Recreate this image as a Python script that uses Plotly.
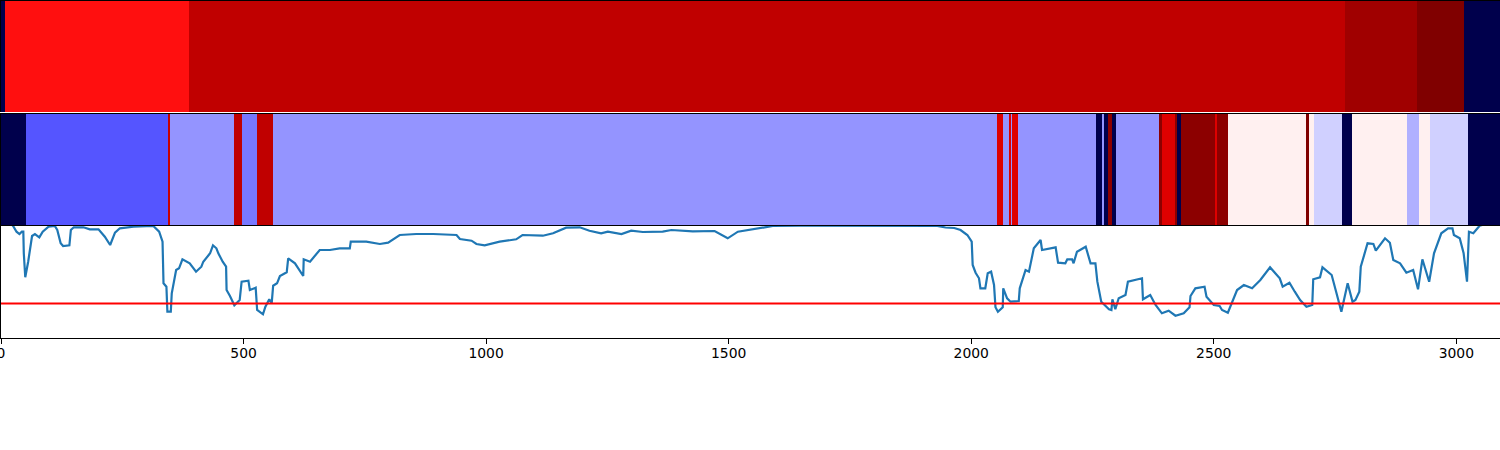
import plotly.graph_objects as go

# Top band: segment edges and values on the seismic scale
top_edges = [0, 8, 387, 2771, 2919, 3016, 3090]
top_values = [0.0, 0.735, 0.875, 0.9365, 1.0, 0.0]

# Middle band
mid_edges = [0, 52, 344, 348, 480, 497, 527, 560, 2054, 2066, 2078, 2081, 2085, 2097, 2258,
             2270, 2274, 2282, 2291, 2299, 2388, 2394, 2421, 2425, 2433, 2503, 2507, 2530,
             2690, 2697, 2707, 2765, 2785, 2898, 2923, 2946, 3024, 3090]
mid_values = [0.0, 0.333, 0.86, 0.395, 0.875, 0.3675, 0.875, 0.395, 0.815, 0.395, 0.815, 0.395,
              0.815, 0.395, 0.0, 0.395, 0.0, 0.977, 0.0, 0.395, 0.977, 0.815, 0.977, 0.0, 0.977,
              0.815, 0.977, 0.515, 1.0, 0.515, 0.454, 0.0, 0.515, 0.4225, 0.515, 0.454, 0.0]

# Line series
line_x = [0, 25, 32, 38, 43, 46, 47, 50, 56, 61, 64, 70, 79, 86, 98, 111, 116, 123, 128, 141, 144,
          150, 170, 183, 201, 214, 225, 235, 245, 273, 314, 326, 333, 335, 341, 343, 350, 352, 361,
          367, 374, 389, 402, 413, 417, 431, 437, 444, 448, 457, 464, 465, 472, 481, 492, 496, 510,
          513, 525, 528, 540, 545, 553, 558, 561, 569, 575, 589, 592, 606, 623, 624, 637, 657, 678,
          698, 719, 721, 753, 781, 798, 822, 856, 891, 939, 946, 970, 980, 997, 1028, 1062, 1075,
          1117, 1138, 1165, 1193, 1213, 1237, 1251, 1279, 1299, 1323, 1364, 1382, 1426, 1471, 1498,
          1519, 1577, 1591, 1648, 1800, 1930, 1947, 1965, 1978, 1992, 2001, 2003, 2009, 2016, 2019,
          2029, 2034, 2041, 2047, 2050, 2055, 2065, 2066, 2074, 2081, 2098, 2100, 2112, 2119, 2129,
          2143, 2146, 2174, 2179, 2194, 2198, 2208, 2211, 2218, 2236, 2246, 2256, 2260, 2268, 2284,
          2289, 2291, 2297, 2304, 2318, 2323, 2352, 2354, 2369, 2380, 2393, 2407, 2421, 2438, 2450,
          2452, 2462, 2481, 2485, 2500, 2512, 2517, 2529, 2548, 2562, 2579, 2596, 2616, 2636, 2642,
          2656, 2667, 2678, 2691, 2703, 2705, 2719, 2724, 2734, 2743, 2753, 2763, 2776, 2786, 2792,
          2800, 2803, 2817, 2829, 2834, 2853, 2863, 2870, 2884, 2897, 2911, 2921, 2930, 2944, 2954,
          2969, 2983, 2992, 2995, 3007, 3015, 3022, 3026, 3035, 3048, 3060, 3090]
line_y = [125, 112, 106.3, 104, 106.3, 106.3, 84.7, 60.7, 76.3, 91.3, 102, 104, 100.7, 106.3, 111.3,
          112, 108, 94.7, 92, 92.7, 108, 110.7, 110.7, 108.7, 108.7, 101.3, 93, 105.3, 109.7, 111.3,
          112, 106.3, 96.3, 54.7, 51.3, 26.3, 26.3, 44.7, 68, 69.7, 78.7, 74.7, 66.3, 71.3, 76.3,
          84.7, 92.7, 89.7, 84.7, 76.3, 71.3, 48, 42, 32.7, 38, 56.3, 57.3, 48, 50.3, 28, 23.7, 31.3,
          38.7, 34.7, 52.3, 54.7, 62, 65.7, 79.7, 74.7, 62, 78.7, 76.3, 88, 88, 89.7, 89.7, 96.3,
          96.3, 94, 95.3, 103, 104, 104, 103, 99, 97.3, 94, 92.7, 96.3, 98.7, 103, 102.3, 104.7,
          110.3, 110.7, 107.3, 104.7, 106.3, 104, 107.3, 106, 106.3, 108, 106.7, 107, 99.7, 106.3,
          110.7, 112, 112.3, 112.3, 112, 110.5, 110, 108, 103, 96.3, 73, 65.3, 59.7, 49.7, 49.7, 64.7,
          66.3, 53, 30.7, 26.3, 30.7, 49.7, 39.7, 36.3, 37, 49.7, 68, 66.3, 89.7, 98, 88, 90.7, 75.3,
          74.7, 78.7, 78.7, 74.7, 86.3, 91.3, 74.7, 74.7, 56.3, 36.3, 28.7, 28, 38.7, 28.7, 39.7, 43,
          56.3, 59.7, 38.7, 43, 33, 24.7, 27.3, 22.3, 24.7, 30.7, 42, 49.7, 51.3, 41.3, 33, 32, 28,
          25.3, 48, 53, 49.7, 58, 70.7, 59.7, 51.3, 55.3, 46.3, 38, 31.3, 33, 58.7, 60.7, 70.7, 66.3,
          63, 44.7, 26.3, 54.7, 36.3, 38, 46.3, 71.3, 94.7, 94, 87.3, 99.7, 95.3, 78, 74.7, 65.3, 68,
          48.7, 78.7, 56.3, 84.7, 104.7, 109.7, 109.7, 103, 99.7, 84.7, 56.3, 106.3, 104.7, 112.3,
          114, 118]
threshold = 34.5
x_ticks = [0, 500, 1000, 1500, 2000, 2500, 3000]

seismic = [[0, "#00004c"], [0.25, "#0000ff"], [0.5, "#ffffff"], [0.75, "#ff0000"], [1, "#800000"]]
X_RANGE = [0, 3090]
H = 450
PAD = 30  # side room so the "0" tick label is kept; the page is shifted left to match

fig = go.Figure()
fig.add_trace(go.Heatmap(x=top_edges, y=[0, 1], z=[top_values], colorscale=seismic, zmin=0, zmax=1,
                         showscale=False, xaxis="x", yaxis="y"))
fig.add_trace(go.Heatmap(x=mid_edges, y=[0, 1], z=[mid_values], colorscale=seismic, zmin=0, zmax=1,
                         showscale=False, xaxis="x2", yaxis="y2"))
fig.add_trace(go.Scatter(x=line_x, y=line_y, mode="lines", line=dict(color="#1f77b4", width=2.2),
                         xaxis="x3", yaxis="y3", showlegend=False))
fig.add_trace(go.Scatter(x=X_RANGE, y=[threshold, threshold], mode="lines",
                         line=dict(color="#ff0000", width=2), xaxis="x3", yaxis="y3", showlegend=False))

spine = dict(showline=True, linecolor="black", linewidth=1, mirror=True, showgrid=False, zeroline=False)
hidden = dict(showticklabels=False, ticks="", **spine)
fig.update_layout(
    width=1499 + 2 * PAD, height=H, margin=dict(l=PAD, r=PAD, t=0, b=0), showlegend=False,
    paper_bgcolor="white", plot_bgcolor="white",
    font=dict(family="DejaVu Sans", size=14, color="black"),
    xaxis=dict(domain=[0, 1], range=X_RANGE, anchor="y", side="top", showline=True, linecolor="black",
               linewidth=1, mirror=False, showgrid=False, zeroline=False, showticklabels=False, ticks=""),
    yaxis=dict(domain=[(H - 112) / H, (H - 1) / H], range=[0, 1], anchor="x", **hidden),
    xaxis2=dict(domain=[0, 1], range=X_RANGE, anchor="y2", **hidden),
    yaxis2=dict(domain=[(H - 225) / H, (H - 114) / H], range=[0, 1], anchor="x2", **hidden),
    xaxis3=dict(domain=[0, 1], range=X_RANGE, anchor="y3", tickmode="array", tickvals=x_ticks,
                ticktext=[str(t) for t in x_ticks], ticks="outside", ticklen=5, tickwidth=1,
                ticklabelstandoff=-3, tickcolor="black",
                tickfont=dict(family="DejaVu Sans", size=13.9), **spine),
    yaxis3=dict(domain=[(H - 338) / H, (H - 226) / H], range=[0, 112], anchor="x3",
                showticklabels=False, ticks="", **spine),
)
fig.write_html("out.html", config={"displayModeBar": False}, post_script=(
    f"document.body.style.margin='0 0 0 -{PAD - 1}px';"
    "document.documentElement.style.overflow='hidden';"
))
